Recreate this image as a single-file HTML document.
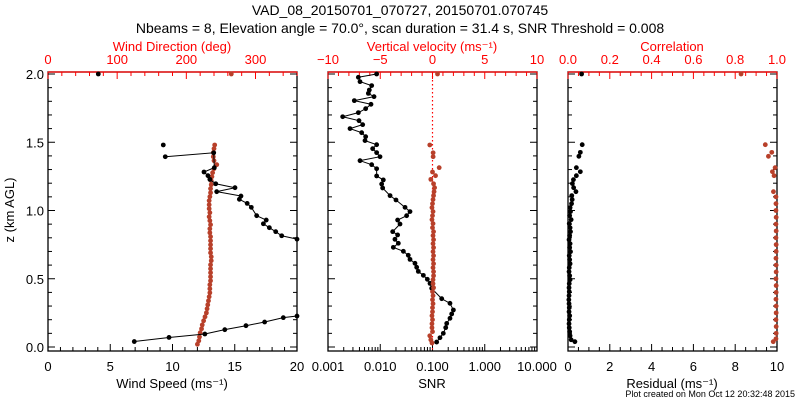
<!DOCTYPE html>
<html><head><meta charset="utf-8">
<style>
html,body{margin:0;padding:0;background:#fff;}
svg{display:block;font-family:"Liberation Sans",sans-serif;}
</style></head>
<body>
<svg id="chart" width="800" height="400" viewBox="0 0 800 400" xmlns="http://www.w3.org/2000/svg">
<text x="400" y="15" font-size="14" text-anchor="middle">VAD_08_20150701_070727, 20150701.070745</text>
<text x="400" y="33" font-size="14" text-anchor="middle">Nbeams = 8, Elevation angle = 70.0°, scan duration = 31.4 s, SNR Threshold = 0.008</text>
<text transform="translate(14,210) rotate(-90)" font-size="13" text-anchor="middle">z (km AGL)</text>
<text x="795" y="397" font-size="9" text-anchor="end">Plot created on Mon Oct 12 20:32:48 2015</text>
<g id="plots"></g>
</svg>
<script>
// ---- Panel 1: wind speed (black) & direction (red)
const wsZ = [2.0, 0.04,0.07,0.095,0.127,0.156,0.183,0.215,0.227];
const wsVal = [4.04, 6.93,9.72,12.6,14.2,15.9,17.4,18.9,20.0];
const wsUpZ = [1.394,1.423,1.314,1.282,1.255,1.228,1.196,1.167,1.138,1.106,1.082,1.052,1.023,0.962,0.930,0.903,0.874,0.845,0.815,0.79];
const wsUpVal = [9.42,13.31,13.36,12.53,12.85,13.0,13.47,15.02,13.55,15.5,15.37,16.0,16.33,16.76,17.53,17.3,17.78,18.29,18.77,20.0];
const wsLoneZ = [1.48, 2.0];
const wsLoneVal = [9.26, 4.04];
const wdZ = [2.0,1.48,1.453,1.424,1.394,1.365,1.336,1.306,1.277,1.248,1.218,1.189,1.16,1.13,1.101,1.072,1.042,1.013,0.984,0.954,0.925,0.896,0.866,0.837,0.808,0.778,0.749,0.72,0.69,0.661,0.632,0.602,0.573,0.544,0.514,0.485,0.456,0.426,0.397,0.368,0.338,0.309,0.28,0.25,0.221,0.192,0.162,0.133,0.104,0.074,0.045,0.02];
const wdVal = [265,241,240,239,239,240,244,240,238,237,236,236,235,235,234,233,233,233,234,233,234,235,234,234,235,235,235,235,235,236,236,235,235,235,235,235,234,234,234,233,232,231,230,229,227,225,223,222,220,219,218,216];
// ---- Panel 2: SNR (black, log) & vertical velocity (red)
const snrZ = [2.0,1.976,1.944,1.915,1.883,1.858,1.834,1.805,1.778,1.746,1.717,1.687,1.658,1.629,1.600,1.570,1.541,1.512,1.482,1.453,1.424,1.394,1.365,1.336,1.306,1.253,1.224,1.194,1.165,1.109,1.077,1.023,0.992,0.962,0.930,0.901,0.845,0.821,0.789,0.760,0.730,0.701,0.672,0.642,0.613,0.584,0.554,0.525,0.496,0.466,0.430,0.354,0.320,0.271,0.242,0.210,0.173,0.142,0.100,0.068,0.036];
const snrVal = [0.00853,0.00381,0.0041,0.00685,0.00618,0.00592,0.0076,0.00319,0.00665,0.00526,0.00381,0.00191,0.00392,0.00461,0.00264,0.00441,0.00526,0.00511,0.00853,0.00716,0.00853,0.00989,0.0041,0.00685,0.00853,0.00853,0.01145,0.01064,0.01112,0.0154,0.02,0.0298,0.0371,0.032,0.0215,0.0239,0.0173,0.0215,0.0191,0.0222,0.0178,0.0277,0.0344,0.0371,0.0462,0.0498,0.0535,0.0668,0.0797,0.0896,0.0964,0.15,0.216,0.251,0.233,0.216,0.187,0.179,0.161,0.139,0.12];
const wZ = [2.0,1.48,1.423,1.394,1.314,1.282,1.255,1.228,1.196,1.167,1.138,1.109,1.08,1.05,1.021,0.992,0.962,0.933,0.904,0.874,0.845,0.816,0.786,0.757,0.728,0.698,0.669,0.64,0.61,0.581,0.552,0.522,0.493,0.464,0.434,0.405,0.376,0.346,0.317,0.288,0.258,0.229,0.2,0.17,0.141,0.112,0.082,0.053,0.03];
const wVal = [0.48,-0.26,0.06,0.06,0.64,0.0,0.29,-0.16,0.1,0.2,0.15,0.1,0.05,0.0,-0.05,0.05,0.0,-0.05,0.05,0.0,0.1,0.05,0.1,0.05,0.1,0.05,0.1,0.05,0.1,0.05,0.1,0.1,0.05,0.05,0.1,0.0,0.05,0.0,0.05,0.0,0.0,-0.05,0.0,-0.05,-0.05,0.0,-0.26,-0.16,-0.05];
// ---- Panel 3: residual (black) & correlation (red)
const resZ = [2.0,1.482,1.426,1.397,1.314,1.284,1.255,1.226,1.197,1.167,1.138,1.109,1.08,1.05,1.021,0.992,0.962,0.933,0.904,0.874,0.845,0.816,0.786,0.757,0.728,0.698,0.669,0.64,0.61,0.581,0.552,0.522,0.493,0.464,0.434,0.405,0.376,0.346,0.317,0.288,0.258,0.229,0.2,0.17,0.141,0.112,0.082,0.053,0.039];
const resVal = [0.65,0.68,0.59,0.52,0.40,0.59,0.40,0.26,0.21,0.27,0.38,0.18,0.2,0.17,0.1,0.12,0.08,0.15,0.06,0.1,0.12,0.08,0.05,0.1,0.08,0.12,0.06,0.08,0.1,0.06,0.05,0.08,0.1,0.06,0.05,0.06,0.05,0.04,0.05,0.06,0.05,0.08,0.06,0.05,0.06,0.08,0.1,0.15,0.33];
const corZ = [2.0,1.482,1.426,1.397,1.314,1.284,1.255,1.138,1.1,1.05,1.0,0.95,0.9,0.85,0.8,0.75,0.7,0.65,0.6,0.55,0.5,0.45,0.4,0.35,0.3,0.25,0.2,0.15,0.1,0.06,0.039];
const corVal = [0.828,0.944,0.975,0.959,0.991,0.978,0.986,0.983,0.995,0.995,0.995,0.996,0.995,0.996,0.995,0.996,0.996,0.995,0.996,0.996,0.995,0.996,0.996,0.995,0.996,0.996,0.995,0.996,0.996,0.995,0.982];

const NS='http://www.w3.org/2000/svg';
const root=document.getElementById('plots');
const RED='#ff0000', PTRED='#b8402a';
const TOP=72, BOT=351;
function yScale(z){return 347 - z*136.5;}
function mk(tag,attrs,parent){const e=document.createElementNS(NS,tag);for(const k in attrs)e.setAttribute(k,attrs[k]);(parent||root).appendChild(e);return e;}
function txt(x,y,s,size,color,anchor,parent){const t=mk('text',{x:x,y:y,'font-size':size,fill:color,'text-anchor':anchor||'middle'},parent);t.textContent=s;return t;}

const panels=[
 {name:'wind',x0:48,x1:297},
 {name:'snr',x0:328,x1:537},
 {name:'corr',x0:568,x1:777}
];
function linX(p,lo,hi){return v=>p.x0+(v-lo)/(hi-lo)*(p.x1-p.x0);}
function logX(p,lo,hi){return v=>p.x0+(Math.log10(v)-Math.log10(lo))/(Math.log10(hi)-Math.log10(lo))*(p.x1-p.x0);}

panels.forEach(p=>{
  const b=mk('rect',{x:p.x0,y:TOP,width:p.x1-p.x0,height:BOT-TOP,fill:'none',stroke:'#000','stroke-width':1.3});
  
  
  const t=mk('line',{x1:p.x0,x2:p.x1,y1:TOP,y2:TOP,stroke:RED,'stroke-width':1.3});
  
  
});

function ticks(name,sx,vals,isMajor,labels,top,color,g){
  vals.forEach(v=>{
    const x=sx(v), L=isMajor(v)?7:4;
    if(top) mk('line',{x1:x,x2:x,y1:TOP,y2:TOP+L,stroke:color,'stroke-width':1},g);
    else mk('line',{x1:x,x2:x,y1:BOT,y2:BOT-L,stroke:color,'stroke-width':1},g);
  });
  labels.forEach(([v,s])=>{txt(sx(v),top?64:371,s,13,color,'middle',g);});
}
function range(a,b,s){const r=[];for(let v=a;v<=b+1e-9;v+=s)r.push(+v.toFixed(6));return r;}

// Panel 1 axes
const p1=panels[0];
const xWS=linX(p1,0,20), xWD=linX(p1,0,360);
let g=mk('g',{});
ticks('ws',xWS,range(0,20,1),v=>v%5===0,[[0,'0'],[5,'5'],[10,'10'],[15,'15'],[20,'20']],false,'#000',g);
txt(172,388,'Wind Speed (ms⁻¹)',13,'#000','middle',g);
g=mk('g',{});
ticks('wd',xWD,range(0,360,20),v=>v%100===0,[[0,'0'],[100,'100'],[200,'200'],[300,'300']],true,RED,g);
txt(172,51,'Wind Direction (deg)',13,RED,'middle',g);
g=mk('g',{});
range(0,2,0.1).forEach(z=>{const y=yScale(z);const L=(Math.round(z*10)%5===0)?7:4;
  panels.forEach(p=>{mk('line',{x1:p.x0,x2:p.x0+L,y1:y,y2:y,stroke:'#000'},g);mk('line',{x1:p.x1,x2:p.x1-L,y1:y,y2:y,stroke:'#000'},g);});});
[0,0.5,1,1.5,2].forEach(z=>txt(44,yScale(z)+5,z.toFixed(1),13,'#000','end',g));

// Panel 2 axes
const p2=panels[1];
const xSNR=logX(p2,0.001,10), xW=linX(p2,-10,10);
g=mk('g',{});
let logT=[];[0.001,0.01,0.1,1].forEach(d=>{for(let k=1;k<10;k++)logT.push(d*k);});logT.push(10);
ticks('snr',xSNR,logT,v=>Math.abs(Math.log10(v)-Math.round(Math.log10(v)))<1e-6,[[0.001,'0.001'],[0.01,'0.010'],[0.1,'0.100'],[1,'1.000'],[10,'10.000']],false,'#000',g);
txt(432,388,'SNR',13,'#000','middle',g);
g=mk('g',{});
ticks('w',xW,range(-10,10,1),v=>v%5===0,[[-10,'−10'],[-5,'−5'],[0,'0'],[5,'5'],[10,'10']],true,RED,g);
txt(432,51,'Vertical velocity (ms⁻¹)',13,RED,'middle',g);
const zl=mk('line',{x1:xW(0),x2:xW(0),y1:TOP,y2:BOT,stroke:RED,'stroke-dasharray':'1.5,2.5','stroke-width':1.2});



// Panel 3 axes
const p3=panels[2];
const xRes=linX(p3,0,10), xCor=linX(p3,0,1);
g=mk('g',{});
ticks('res',xRes,range(0,10,0.5),v=>Math.abs(v%2)<1e-6,[[0,'0'],[2,'2'],[4,'4'],[6,'6'],[8,'8'],[10,'10']],false,'#000',g);
txt(672,388,'Residual (ms⁻¹)',13,'#000','middle',g);
g=mk('g',{});
ticks('cor',xCor,range(0,1,0.05),v=>Math.abs((v*10)%2)<1e-6||Math.abs((v*10)%2-2)<1e-6,[[0,'0.0'],[0.2,'0.2'],[0.4,'0.4'],[0.6,'0.6'],[0.8,'0.8'],[1,'1.0']],true,RED,g);
txt(672,51,'Correlation',13,RED,'middle',g);

// Series drawing
function series(name,xs,zs,sx,color,connect){
  const sg=mk('g',{});
  
  
  const pts=xs.map((v,i)=>[Math.min(Math.max(sx(v),0),800),yScale(zs[i])]);
  if(connect){
    const pl=mk('polyline',{points:pts.map(p=>p.join(',')).join(' '),fill:'none',stroke:color,'stroke-width':1},sg);
    
    
  }
  pts.forEach(p=>{
    const c=mk('circle',{cx:p[0],cy:p[1],r:2.4,fill:color},sg);
    
    
  });
}
series('wind-direction-points',wdVal,wdZ,xWD,PTRED,false);
series('wind-speed-low-segment',wsVal.slice(1),wsZ.slice(1),xWS,'#000',true);
series('wind-speed-upper-segment',wsUpVal,wsUpZ,xWS,'#000',true);
series('wind-speed-isolated-points',wsLoneVal,wsLoneZ,xWS,'#000',false);
series('snr-profile',snrVal,snrZ,xSNR,'#000',true);
series('vertical-velocity-points',wVal,wZ,xW,PTRED,false);
series('residual-points',resVal,resZ,xRes,'#000',false);
series('correlation-points',corVal,corZ,xCor,PTRED,false);
</script>
</body></html>
